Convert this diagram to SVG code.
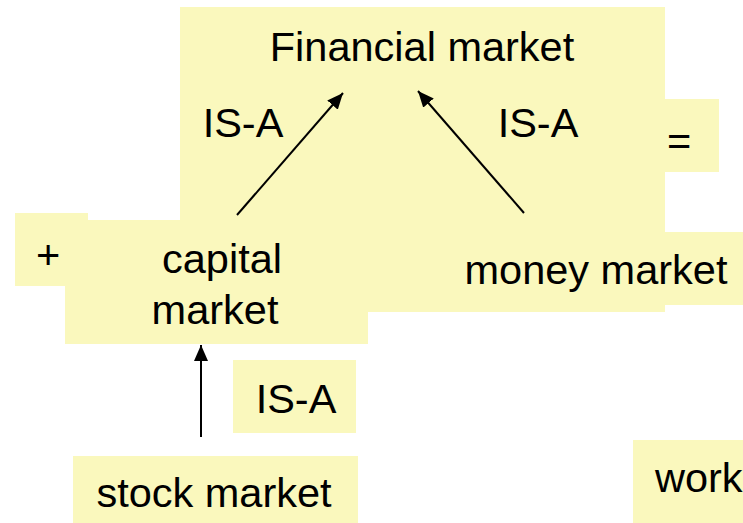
<svg xmlns="http://www.w3.org/2000/svg" width="743" height="523" viewBox="0 0 743 523">
  <style>
    .box { fill: #FAF8BD; stroke: none; }
    .lbl { font-family: "Liberation Sans", Arial, sans-serif; font-size: 41.5px; fill: #000; }
    .mid { text-anchor: middle; }
    .edge { stroke: #000; stroke-width: 2; fill: none; marker-end: url(#head); }
  </style>
  <defs>
    <marker id="head" viewBox="0 0 16 14" refX="16" refY="7" markerWidth="8" markerHeight="7" orient="auto" markerUnits="strokeWidth">
      <path d="M0,0 L16,7 L0,14 Z" fill="#000"/>
    </marker>
  </defs>

  <!-- notes / decorations -->
  <g id="node-equals">
    <rect class="box" x="664" y="99" width="55" height="73"/>
    <text class="lbl mid" x="679" y="155">=</text>
  </g>
  <g id="node-money-market">
    <rect class="box" x="450" y="232" width="293" height="73"/>
  </g>
  <g id="node-financial-market">
    <rect class="box" x="180" y="7" width="485" height="305"/>
    <text class="lbl mid" x="422" y="61">Financial market</text>
  </g>
  <g id="label-money-market">
    <text class="lbl mid" x="596" y="284">money market</text>
  </g>
  <g id="node-plus">
    <rect class="box" x="15" y="213" width="73" height="73"/>
    <text class="lbl mid" x="48" y="269">+</text>
  </g>
  <g id="node-capital-market">
    <rect class="box" x="65" y="220" width="303" height="124"/>
    <text class="lbl mid" x="222" y="273">capital</text>
    <text class="lbl mid" x="215" y="324">market</text>
  </g>
  <g id="node-isa-label">
    <rect class="box" x="233" y="360" width="123" height="73"/>
    <text class="lbl mid" x="296" y="413">IS-A</text>
  </g>
  <g id="node-stock-market">
    <rect class="box" x="73" y="456" width="285" height="67"/>
    <text class="lbl mid" x="214" y="507">stock market</text>
  </g>
  <g id="node-work">
    <rect class="box" x="633" y="440" width="110" height="83"/>
    <text class="lbl" x="655" y="492">work</text>
  </g>

  <!-- IS-A connectors -->
  <g id="connectors">
    <line class="edge" x1="237" y1="215" x2="343" y2="93"/>
    <line class="edge" x1="524" y1="213" x2="418" y2="91"/>
    <line class="edge" x1="201" y1="437" x2="201" y2="345"/>
    <text class="lbl mid" x="243" y="137">IS-A</text>
    <text class="lbl mid" x="538" y="137">IS-A</text>
  </g>
</svg>
